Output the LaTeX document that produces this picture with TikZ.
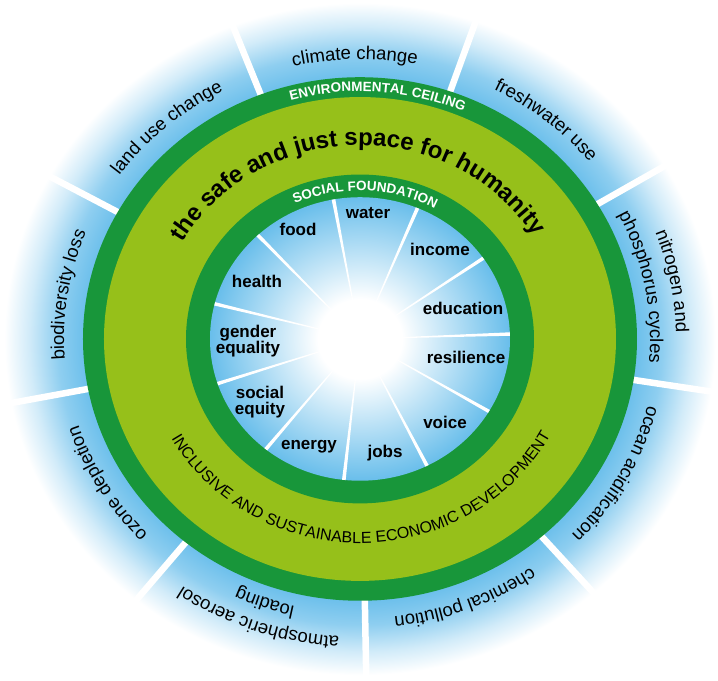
\documentclass[tikz,border=0pt]{standalone}
\usepackage{fontspec}
\setmainfont{Liberation Sans}
\usepackage{xcolor}
\usetikzlibrary{decorations.text}
\definecolor{CeilingGreen}{RGB}{24,150,58}
\definecolor{SpaceGreen}{RGB}{150,192,26}
\definecolor{SkyBlue}{RGB}{105,190,235}
\pgfdeclareradialshading{outerglow}{\pgfpointorigin}{%
  color(0bp)=(SkyBlue); color(19bp)=(SkyBlue); color(21bp)=(SkyBlue!75);
  color(23bp)=(SkyBlue!30); color(24.7bp)=(white); color(50bp)=(white)}
\pgfdeclareradialshading{innerglow}{\pgfpointorigin}{%
  color(0bp)=(white); color(7bp)=(white); color(25bp)=(SkyBlue); color(50bp)=(SkyBlue)}
\newcommand{\segfont}{\fontsize{18.5pt}{21pt}\selectfont}
\newcommand{\bandfont}{\bfseries\fontsize{13.5pt}{16pt}\selectfont}
\newcommand{\spacefont}{\bfseries\fontsize{24pt}{28pt}\selectfont}
\newcommand{\devfont}{\fontsize{16pt}{19pt}\selectfont}
\tikzset{
  socialneed/.style={font=\bfseries\fontsize{17pt}{16.5pt}\selectfont, align=center, inner sep=0pt},
  ontext/.style={decorate, decoration={text along path, text align=center, text={#1}}},
  bandtext/.style={ontext={|\bandfont|#1}, decoration={text color=white}}
}

\begin{document}
\begin{tikzpicture}[x=1pt, y=0.945pt]
    \useasboundingbox (-360,-361.9) rectangle (358,358.7);
    \coordinate (hub) at (0,0);
    % halo and the nine planetary boundaries
    \shade[shading=outerglow] (hub) circle (360);
    \foreach \a in {71,111,...,391}
        \draw[white, line width=6.5pt] (\a:270) -- (\a:372);
    % the doughnut
    \fill[CeilingGreen] (hub) circle (277);
    \fill[SpaceGreen] (hub) circle (256);
    \fill[CeilingGreen] (hub) circle (174);
    \shade[shading=innerglow] (hub) circle (150);
    \foreach \k in {0,...,10}
        \fill[white] (hub) -- ({2+32.727*\k-0.7}:150) -- ({2+32.727*\k+0.7}:150) -- cycle;

    \path[ontext={|\segfont|climate change}] (111:296) arc[start angle=111, end angle=71, radius=296];
    \path[ontext={|\segfont|freshwater use}] (71:296) arc[start angle=71, end angle=31, radius=296];
    \path[ontext={|\segfont|nitrogen and}] (31:316) arc[start angle=31, end angle=-9, radius=316];
    \path[ontext={|\segfont|phosphorus cycles}] (31:290) arc[start angle=31, end angle=-9, radius=290];
    \path[ontext={|\segfont|ocean acidification}] (-9:296) arc[start angle=-9, end angle=-49, radius=296];
    \path[ontext={|\segfont|chemical pollution}] (-49:296) arc[start angle=-49, end angle=-89, radius=296];
    \path[ontext={|\segfont|atmospheric aerosol}] (-89:316) arc[start angle=-89, end angle=-129, radius=316];
    \path[ontext={|\segfont|loading}] (-89:290) arc[start angle=-89, end angle=-129, radius=290];
    \path[ontext={|\segfont|ozone depletion}] (-129:296) arc[start angle=-129, end angle=-169, radius=296];
    \path[ontext={|\segfont|biodiversity loss}] (191:296) arc[start angle=191, end angle=151, radius=296];
    \path[ontext={|\segfont|land use change}] (151:296) arc[start angle=151, end angle=111, radius=296];

    \path[bandtext={ENVIRONMENTAL CEILING}] (123:262) arc[start angle=123, end angle=49, radius=262];
    \path[bandtext={SOCIAL FOUNDATION}] (125:157) arc[start angle=125, end angle=51, radius=157];
    \path[ontext={|\spacefont|the safe and just space for humanity}] (161:205) arc[start angle=161, end angle=21, radius=205];
    \path[ontext={|\devfont|INCLUSIVE AND SUSTAINABLE ECONOMIC DEVELOPMENT}] (200:216) arc[start angle=200, end angle=341, radius=216];

    % social foundation
    \node[socialneed] (water) at (8,133.3) {water};
    \node[socialneed] (income) at (80,95.2) {income};
    \node[socialneed] (education) at (103,32.8) {education};
    \node[socialneed] (resilience) at (106,-19) {resilience};
    \node[socialneed] (voice) at (85,-87.8) {voice};
    \node[socialneed] (jobs) at (25,-120.6) {jobs};
    \node[socialneed] (energy) at (-51,-114.3) {energy};
    \node[socialneed] (equity) at (-100,-66.7) {social\\equity};
    \node[socialneed] (gender) at (-112,-2.1) {gender\\equality};
    \node[socialneed] (health) at (-103,61.4) {health};
    \node[socialneed] (food) at (-62,116.4) {food};
\end{tikzpicture}
\end{document}
